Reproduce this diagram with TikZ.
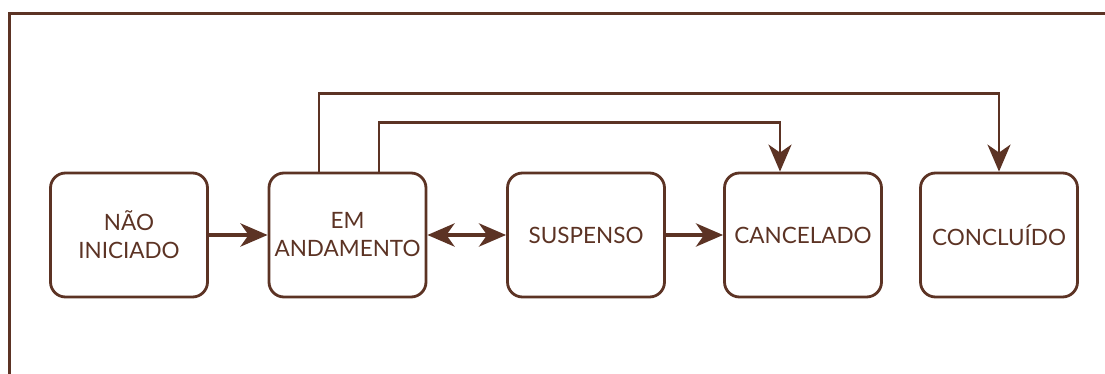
\documentclass[tikz,border=0pt]{standalone}
\usepackage{fontspec}
\setmainfont{Lato}
\usetikzlibrary{arrows.meta}
\definecolor{bark}{RGB}{92,51,36}
\tikzset{
    state/.style={draw, rounded corners=15pt, minimum width=157pt, minimum height=124pt,
        inner sep=0pt, align=center, font=\fontsize{22.5}{28}\selectfont},
    flow/.style={->, line width=4.5pt},
    link/.style={->, line width=2.7pt}
}
\begin{document}
\begin{tikzpicture}[x=1pt, y=1pt, color=bark, line width=2.8pt,
    >={Stealth[length=27pt, width=23pt, inset=8pt]}]

    \useasboundingbox (0,0) rectangle (1105,374);

    % Frame
    \draw (9.5,0) -- (9.5,360.5) -- (1105,360.5);

    % Nodes
    \node[state] at (129, 139) (NI) {NÃO\\INICIADO};
    \node[state] at (347.5, 139) (EA) {EM\\ANDAMENTO};
    \node[state] at (586, 139) (SU) {SUSPENSO};
    \node[state] at (803, 139) (CA) {CANCELADO};
    \node[state] at (999, 139) (CO) {CONCLUÍDO};

    % Arrows
    \draw[flow] (NI) -- (EA);
    \draw[flow, <->] (EA) -- (SU);
    \draw[flow] (SU) -- (CA);
    \draw[link] ([xshift=-28.5pt]EA.north) -- ++(0,78) -| (CO.north);
    \draw[link] ([xshift=31.5pt]EA.north) -- ++(0,49) -| ([xshift=-23pt]CA.north);

\end{tikzpicture}
\end{document}
